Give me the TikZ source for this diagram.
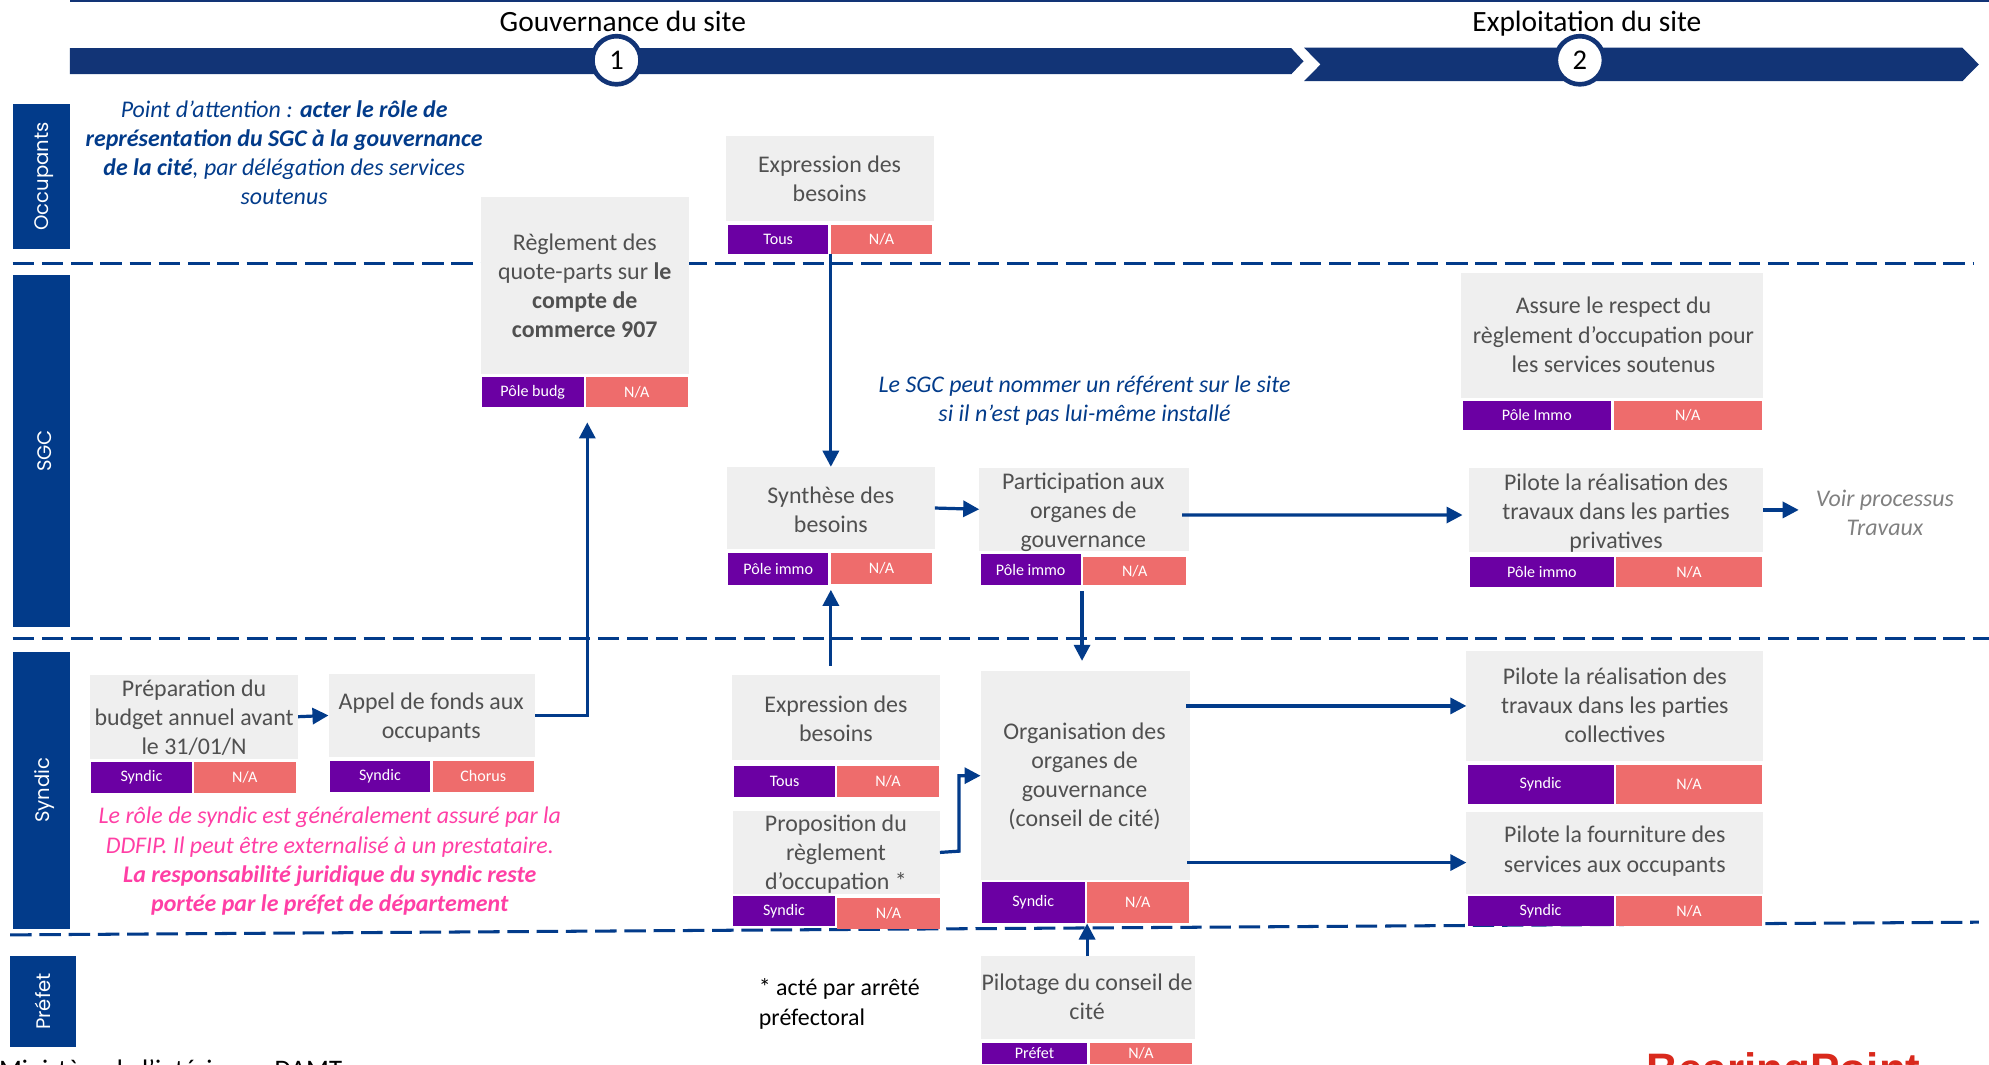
\documentclass[tikz,border=0pt]{standalone}
\usepackage{fontspec}
\setmainfont{Carlito}
\newfontfamily\lanefont{Poppins}
\newfontfamily\logofont{Liberation Sans}
\usetikzlibrary{arrows.meta,positioning}
\definecolor{navy}{HTML}{123476}
\definecolor{lane}{HTML}{023B8A}
\definecolor{greyb}{HTML}{EFEFEF}
\definecolor{txtc}{HTML}{505050}
\definecolor{purp}{HTML}{6B00A3}
\definecolor{coral}{HTML}{EE6C6C}
\definecolor{pinkn}{HTML}{FF3FA5}
\definecolor{voirc}{HTML}{808080}
\definecolor{logored}{HTML}{D9291C}
\newcommand\U{0.025cm}
\tikzset{
 x=0.025cm,y=-0.025cm,
 box/.style={fill=greyb,draw=none,inner sep=0pt,outer sep=0pt},
 tagbox/.style={draw=none,inner sep=0pt,outer sep=0pt,text=white,font=\fontsize{9}{10}\selectfont},
 owner/.style={tagbox,fill=purp},
 system/.style={tagbox,fill=coral},
 label/.style={align=center,text=txtc,inner sep=0pt,font=\fontsize{13.4}{16.35}\selectfont},
 note/.style={align=center,inner sep=0pt,font=\fontsize{13.4}{16.35}\selectfont\itshape},
 lanebox/.style={fill=lane,inner sep=0pt,outer sep=0pt},
 lanetxt/.style={text=white,rotate=90,inner sep=0pt,font=\lanefont\fontsize{11}{12}\selectfont},
 sep/.style={draw=lane,line width=1.7pt,dash pattern=on 12pt off 4.4pt},
 arr/.style={draw=lane,line width=1.8pt,-{Triangle[length=9pt,width=9pt]}},
 phase/.style={circle,draw=navy,fill=white,line width=2.6pt,minimum size=27pt,inner sep=0pt,font=\fontsize{16}{17}\selectfont},
 title/.style={inner sep=0pt,anchor=base,font=\fontsize{16.5}{19}\selectfont}
}
\newcommand\rectnode[6]{% style, name, x1,y1,x2,y2
 \node[#1,minimum width={(#5-#3)*\U},minimum height={(#6-#4)*\U}] (#2) at ({(#3+#5)/2},{(#4+#6)/2}) {};}
\newcommand\tagnode[7]{% style,name,x1,y1,x2,y2,text
 \node[#1,minimum width={(#5-#3)*\U},minimum height={(#6-#4)*\U}] (#2) at ({(#3+#5)/2},{(#4+#6)/2}) {#7};}
\begin{document}
\begin{tikzpicture}
\useasboundingbox (0,0) rectangle (1568,839);
\clip (0,0) rectangle (1568,839);
% top line and phase bars
\fill[navy] (55,0) rectangle (1568,1.6);
\fill[navy] (55,38) -- (1018,38) -- (1027.6,48.3) -- (1018,58.5) -- (55,58.5) -- cycle;
\fill[navy] (1028,37.6) -- (1547,37.6) -- (1560,50.8) -- (1547,64) -- (1028,64) -- (1041,50.8) -- cycle;
\node[title] (t1) at (491,25) {Gouvernance du site};
\node[title] (t2) at (1251,25) {Exploitation du site};
\node[phase] (p1) at (486,47.5) {1};
\node[phase] (p2) at (1245.5,47.5) {2};
% lanes
\rectnode{lanebox}{occ}{10}{82}{55}{196}
\rectnode{lanebox}{sgc}{10}{217}{55}{494}
\rectnode{lanebox}{syn}{10}{514}{55}{732}
\rectnode{lanebox}{pre}{7.7}{754}{60}{825}
\node[lanetxt] at (35,139) {Occupants};
\node[lanetxt] at (35,355.5) {SGC};
\node[lanetxt] at (35,623) {Syndic};
\node[lanetxt] at (pre) {Préfet};
% separators
\coordinate (s1a) at (10,208); \coordinate (s1b) at (1556,208);
\coordinate (s2a) at (10,503); \coordinate (s2b) at (1568,503);
\coordinate (s3a) at (8,737); \coordinate (s3b) at (1560,727);
\draw[sep] (s1a) -- (s1b);
\draw[sep] (s2a) -- (s2b);
\draw[sep] (s3a) -- (s3b);
% A expression top
\rectnode{box}{A}{572}{107}{736}{174}
\node[label] (At) at (654,141) {Expression des\\besoins};
\tagnode{owner}{Ao}{574}{177}{653}{200}{Tous}
\tagnode{system}{As}{655}{177}{735}{200}{N/A}
% B reglement
\rectnode{box}{B}{379}{155}{543}{295}
\node[label] (Bt) at (461,225.5) {Règlement des\\quote-parts sur \textbf{le}\\\textbf{compte de}\\\textbf{commerce 907}};
\tagnode{owner}{Bo}{380}{297}{460}{321}{Pôle budg}
\tagnode{system}{Bs}{462}{297}{542}{321}{N/A}
% C assure
\rectnode{box}{C}{1152}{215}{1390}{314}
\node[label] (Ct) at (1272,264) {Assure le respect du\\règlement d’occupation pour\\les services soutenus};
\tagnode{owner}{Co}{1153}{316}{1270}{339}{Pôle Immo}
\tagnode{system}{Cs}{1272}{316}{1389}{339}{N/A}
% D synthese
\rectnode{box}{D}{573}{368}{737}{433}
\node[label] (Dt) at (655,402) {Synthèse des\\besoins};
\tagnode{owner}{Do}{574}{436}{653}{461}{Pôle immo}
\tagnode{system}{Ds}{655}{436}{735}{460}{N/A}
% E participation
\rectnode{box}{E}{772}{369}{937}{434}
\node[label] (Et) at (854,404) {Participation aux\\organes de\\gouvernance};
\tagnode{owner}{Eo}{773}{437}{852}{461}{Pôle immo}
\tagnode{system}{Es}{854}{439}{935}{461}{N/A}
% F pilote privatives
\rectnode{box}{F}{1158}{369}{1390}{435}
\node[label] (Ft) at (1274,404.5) {Pilote la réalisation des\\travaux dans les parties\\privatives};
\tagnode{owner}{Fo}{1159}{439}{1272}{463}{Pôle immo}
\tagnode{system}{Fs}{1274}{439}{1389}{463}{N/A}
\node[note,text=voirc] (G) at (1486,404) {Voir processus\\Travaux};
% H preparation
\rectnode{box}{H}{71}{532}{235}{598}
\node[label] (Ht) at (153,566) {Préparation du\\budget annuel avant\\le 31/01/N};
\tagnode{owner}{Ho}{72}{601}{151}{625}{Syndic}
\tagnode{system}{Hs}{153}{601}{233}{625}{N/A}
% I appel
\rectnode{box}{I}{259}{531}{422}{597}
\node[label] (It) at (340,566) {Appel de fonds aux\\occupants};
\tagnode{owner}{Io}{260}{600}{339}{624}{Syndic}
\tagnode{system}{Is}{341}{600}{421}{624}{Chorus}
% J expression
\rectnode{box}{J}{577}{532}{741}{599}
\node[label] (Jt) at (659,566.5) {Expression des\\besoins};
\tagnode{owner}{Jo}{579}{604}{658}{628}{Tous}
\tagnode{system}{Js}{660}{604}{740}{628}{N/A}
% K proposition
\rectnode{box}{K}{578}{639}{741}{705}
\node[label] (Kt) at (659,673.5) {Proposition du\\règlement\\d’occupation *};
\tagnode{owner}{Ko}{578}{706}{658}{730}{Syndic}
\tagnode{system}{Ks}{660}{708}{741}{732}{N/A}
% L organisation
\rectnode{box}{L}{773}{529}{938}{694}
\node[label] (Lt) at (855,612) {Organisation des\\organes de\\gouvernance\\(conseil de cité)};
\tagnode{owner}{Lo}{774}{695}{855}{728}{Syndic}
\tagnode{system}{Ls}{857}{695}{937}{728}{N/A}
% M pilote collectives
\rectnode{box}{M}{1156}{513}{1390}{600}
\node[label] (Mt) at (1273,556) {Pilote la réalisation des\\travaux dans les parties\\collectives};
\tagnode{owner}{Mo}{1157}{603}{1272}{634}{Syndic}
\tagnode{system}{Ms}{1274}{603}{1389}{634}{N/A}
% N pilote fourniture
\rectnode{box}{N}{1156}{640}{1390}{705}
\node[label] (Nt) at (1273,671) {Pilote la fourniture des\\services aux occupants};
\tagnode{owner}{No}{1157}{706}{1272}{730}{Syndic}
\tagnode{system}{Ns}{1274}{706}{1389}{730}{N/A}
% O pilotage
\rectnode{box}{O}{773}{754}{942}{819}
\node[label] (Ot) at (857,785.5) {Pilotage du conseil de\\cité};
\tagnode{owner}{Oo}{774}{822}{857}{839}{Préfet}
\tagnode{system}{Os}{859}{822}{940}{839}{N/A}
% notes
\node[note,text=lane] (n1) at (224,120.5) {Point d’attention : \textbf{acter le rôle de}\\\textbf{représentation du SGC à la gouvernance}\\\textbf{de la cité}, par délégation des services\\soutenus};
\node[note,text=lane] (n2) at (855,316) {Le SGC peut nommer un référent sur le site\\si il n’est pas lui-même installé};
\node[note,text=pinkn] (n3) at (260,679) {Le rôle de syndic est généralement assuré par la\\DDFIP. Il peut être externalisé à un prestataire.\\\textbf{La responsabilité juridique du syndic reste}\\\textbf{portée par le préfet de département}};
\node[inner sep=0pt,align=left,anchor=west,font=\fontsize{13.4}{16.35}\selectfont] (n4) at (598,791.5) {* acté par arrêté\\préfectoral};
\node[inner sep=0pt,anchor=base west,font=\fontsize{15}{17}\selectfont] (foot) at (-1,850) {Ministère de l’intérieur – DAMT};
\node[inner sep=0pt,anchor=base,text=logored,font=\logofont\bfseries\fontsize{24.7}{28}\selectfont] (logo) at (1406,855) {BearingPoint};
% connectors
\coordinate (e1) at ([xshift=\U,yshift=-5*\U]Eo.south east);
\coordinate (e2) at ([yshift=8*\U]e1 |- L.north);
\coordinate (b1) at ([xshift=\U,yshift=-12*\U]Bs.south west);
\coordinate (n1s) at ([xshift=-2*\U,yshift=-7.5*\U]L.east |- N.west);
\coordinate (n1e) at ([yshift=-7.5*\U]N.west);
\draw[arr] (As.south west) -- (D.north);
\draw[arr] (D.east) -- (E.west);
\draw[arr] ([yshift=-4.5*\U,xshift=-5*\U]E.east) -- ([yshift=-4*\U,xshift=-5*\U]F.west);
\draw[arr] (F.east) -- ++(28,0) coordinate (Gin);
\draw[arr] (e1) -- (e2);
\draw[arr] ([yshift=7*\U]J.north -| Ds.south west) -- ([yshift=-5*\U]Ds.south west);
\draw[arr] (H.east) -- (I.west);
\draw[arr] (I.east) -| (b1);
\draw[arr] ([xshift=-3*\U]L.east |- M.west) -- (M.west);
\draw[arr] (n1s) -- (n1e);
\draw[arr] (K.east) -- ++(15,-1) |- (L.west);
\draw[arr] (Ls.south west |- O.north) -- (Ls.south west);
\end{tikzpicture}
\end{document}
